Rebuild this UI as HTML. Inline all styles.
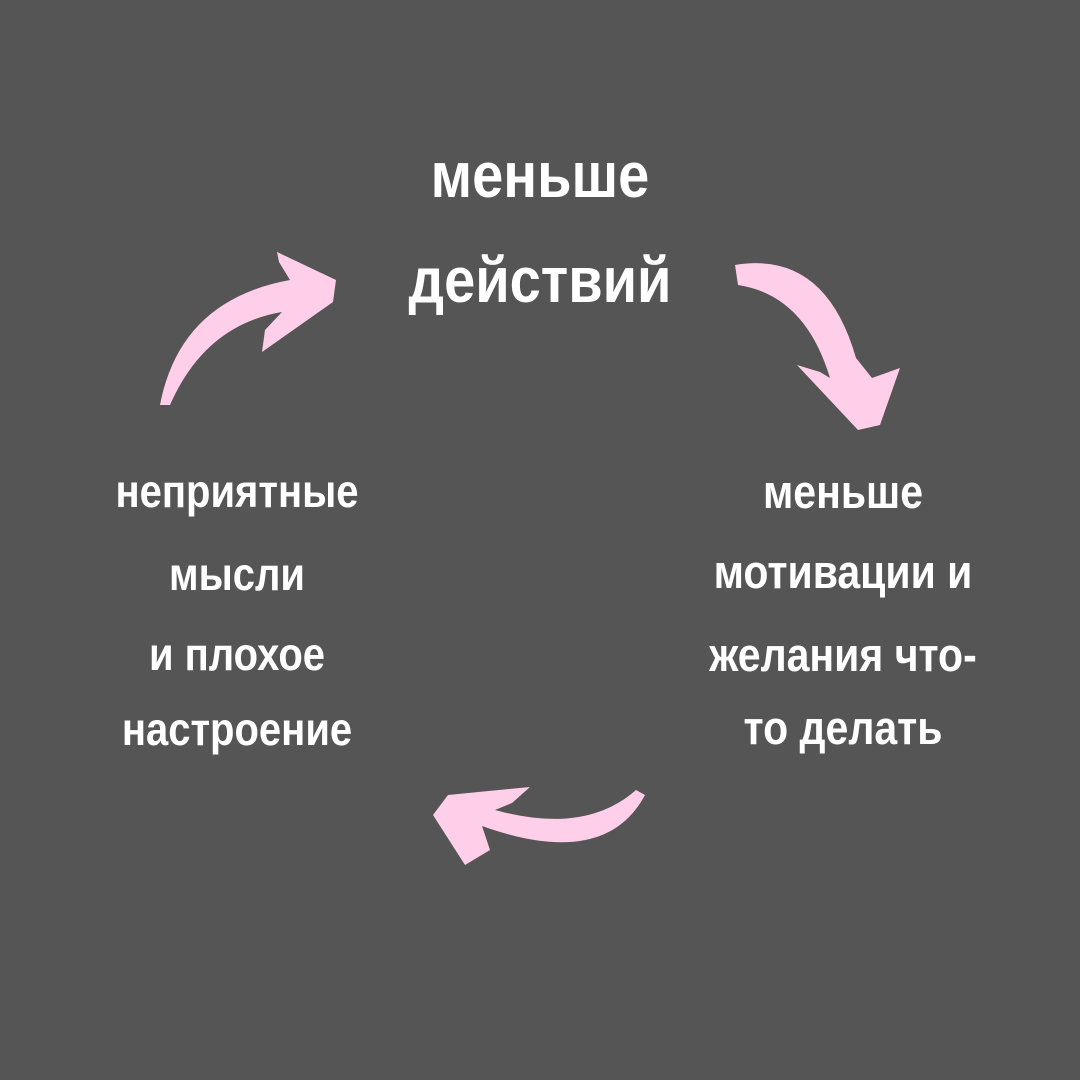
<!DOCTYPE html>
<html><head><meta charset="utf-8"><style>
html,body{margin:0;padding:0}
body{width:1080px;height:1080px;background:#555555;position:relative;overflow:hidden;font-family:"Liberation Sans","DejaVu Sans",sans-serif;color:#fff;font-weight:bold}
.t{position:absolute;text-align:center;white-space:nowrap;transform:scaleY(1.15)}
</style></head><body>
<svg width="1080" height="1080" style="position:absolute;left:0;top:0">
<g fill="#ffcfea">
<path d="M160,405 Q180,300 290,280 L279,262 L277,252 L336,280 L333,302 L262,352 L265,330 L282,312 Q205,325 170,405 Z"/>
<path d="M735,265 Q825,250 856,358 L872,378 L900,368 L880,425 L858,430 L797,365 L820,372 L830,378 Q805,295 738,285 Z"/>
<path d="M645,795 Q605,870 482,826 L490,850 L465,865 L433,815 L448,795 L530,787 L512,803 L495,810 Q585,835 636,790 Z"/>
</g>
</svg>
<div class="t" style="left:340px;width:400px;top:140px;font-size:56px;line-height:70px">меньше</div>
<div class="t" style="left:340px;width:400px;top:245px;font-size:56px;line-height:70px">действий</div>
<div class="t" style="left:37px;width:400px;top:466px;font-size:40px;line-height:52px">неприятные</div>
<div class="t" style="left:37px;width:400px;top:549px;font-size:40px;line-height:52px">мысли</div>
<div class="t" style="left:37px;width:400px;top:629px;font-size:40px;line-height:52px">и плохое</div>
<div class="t" style="left:37px;width:400px;top:704px;font-size:40px;line-height:52px">настроение</div>
<div class="t" style="left:643px;width:400px;top:466px;font-size:41px;line-height:52px">меньше</div>
<div class="t" style="left:643px;width:400px;top:546px;font-size:41px;line-height:52px">мотивации и</div>
<div class="t" style="left:643px;width:400px;top:629px;font-size:41px;line-height:52px">желания что-</div>
<div class="t" style="left:643px;width:400px;top:702px;font-size:41px;line-height:52px">то делать</div>
</body></html>
